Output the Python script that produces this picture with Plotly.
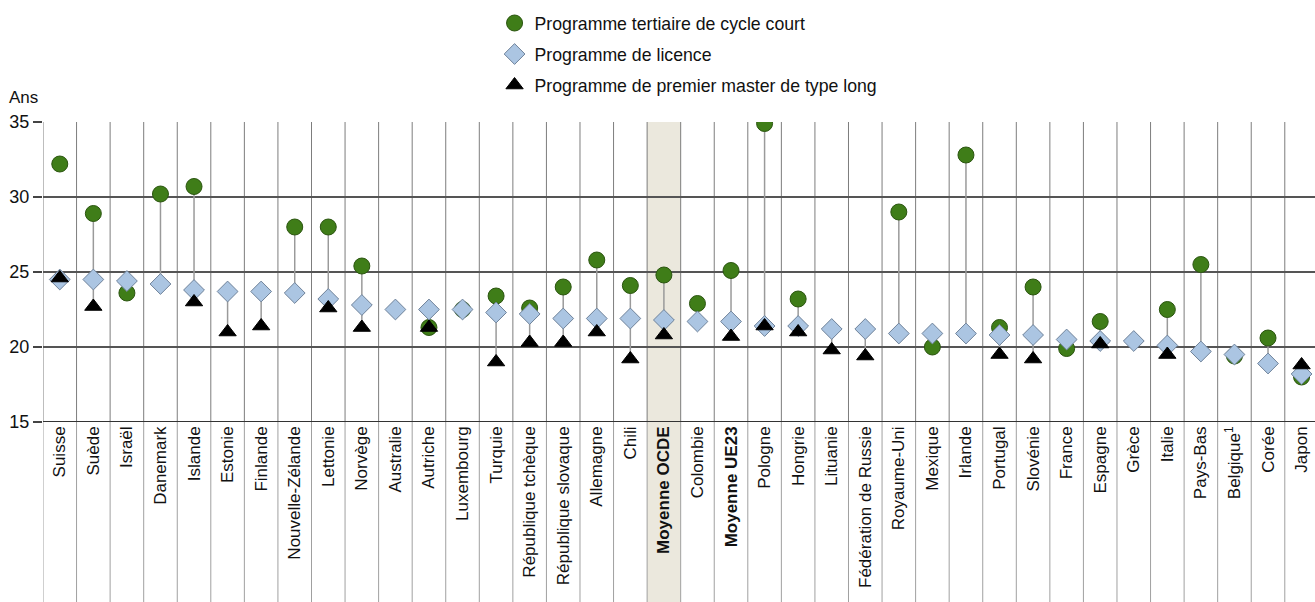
import plotly.graph_objects as go

# Pays et moyennes, triés par âge d'entrée en licence
pays = ["Suisse", "Suède", "Israël", "Danemark", "Islande", "Estonie", "Finlande",
        "Nouvelle-Zélande", "Lettonie", "Norvège", "Australie", "Autriche", "Luxembourg",
        "Turquie", "République tchèque", "République slovaque", "Allemagne", "Chili",
        "Moyenne OCDE", "Colombie", "Moyenne UE23", "Pologne", "Hongrie", "Lituanie",
        "Fédération de Russie", "Royaume-Uni", "Mexique", "Irlande", "Portugal", "Slovénie",
        "France", "Espagne", "Grèce", "Italie", "Pays-Bas", "Belgique<sup>1</sup>",
        "Corée", "Japon"]

cycle_court = [32.2, 28.9, 23.6, 30.2, 30.7, None, None, 28.0, 28.0, 25.4, None, 21.3, 22.5,
               23.4, 22.6, 24.0, 25.8, 24.1, 24.8, 22.9, 25.1, 34.9, 23.2, None, None, 29.0,
               20.0, 32.8, 21.3, 24.0, 19.9, 21.7, None, 22.5, 25.5, 19.4, 20.6, 18.0]

licence = [24.5, 24.5, 24.4, 24.2, 23.8, 23.7, 23.7, 23.6, 23.2, 22.8, 22.5, 22.5, 22.5,
           22.3, 22.2, 21.9, 21.9, 21.9, 21.8, 21.7, 21.7, 21.4, 21.4, 21.2, 21.2, 20.9,
           20.9, 20.9, 20.8, 20.8, 20.5, 20.4, 20.4, 20.1, 19.7, 19.5, 18.9, 18.2]

master_long = [24.6, 22.7, None, None, 23.0, 21.0, 21.4, None, 22.6, 21.3, None, 21.3, None,
               19.0, 20.3, 20.3, 21.0, 19.2, 20.8, None, 20.7, 21.4, 21.0, 19.8, 19.4, None,
               None, None, 19.5, 19.2, None, 20.2, None, 19.5, None, None, None, 18.8]

moyennes = ["Moyenne OCDE", "Moyenne UE23"]
colonne_surlignee = "Moyenne OCDE"
sans_trait = ["Suisse"]

y_ticks = [15, 20, 25, 30, 35]

FONT = "Liberation Sans, Arial, sans-serif"
n = len(pays)
xs = list(range(n))

ticktext = [f"<b>{p}</b>" if p in moyennes else p for p in pays]

# segments verticaux reliant le minimum et le maximum de chaque pays
seg_x, seg_y = [], []
for i, p in enumerate(pays):
    vals = [v for v in (cycle_court[i], licence[i], master_long[i]) if v is not None]
    if p in sans_trait or len(vals) < 2:
        continue
    seg_x += [i, i, None]
    seg_y += [min(vals), max(vals), None]

fig = go.Figure()

fig.add_trace(go.Scatter(x=seg_x, y=seg_y, mode="lines",
                         line=dict(color="#9a9a9a", width=1.5),
                         showlegend=False, hoverinfo="skip"))

fig.add_trace(go.Scatter(x=xs, y=cycle_court, mode="markers", legendgroup="a",
                         name="Programme tertiaire de cycle court",
                         marker=dict(symbol="circle", size=16, color="#3f7d18",
                                     line=dict(color="#2b5510", width=1))))
fig.add_trace(go.Scatter(x=xs, y=licence, mode="markers", legendgroup="b",
                         name="Programme de licence",
                         marker=dict(symbol="diamond", size=16, color="#abc5e2",
                                     line=dict(color="#70839a", width=1))))
fig.add_trace(go.Scatter(x=xs, y=master_long, mode="markers", legendgroup="c",
                         name="Programme de premier master de type long",
                         marker=dict(symbol="triangle-up", size=15, color="#000000",
                                     line=dict(color="#000000", width=1))))

shapes = []
# colonne mise en évidence
k = pays.index(colonne_surlignee)
shapes.append(dict(type="rect", xref="x", yref="paper", x0=k - 0.5, x1=k + 0.5,
                   y0=-0.6, y1=1, fillcolor="#ebe8dd", line=dict(width=0), layer="below"))
# séparateurs de colonnes
for b in range(n + 1):
    shapes.append(dict(type="line", xref="x", yref="y", x0=b - 0.5, x1=b - 0.5,
                       y0=y_ticks[0], y1=y_ticks[-1],
                       line=dict(color="#7d7d7d", width=1), layer="below"))
    shapes.append(dict(type="line", xref="x", yref="paper", x0=b - 0.5, x1=b - 0.5,
                       y0=-0.6, y1=0, line=dict(color="#a0a0a0", width=1), layer="below"))
# axe horizontal à 15
shapes.append(dict(type="line", xref="paper", yref="y", x0=0, x1=1, y0=y_ticks[0],
                   y1=y_ticks[0], line=dict(color="#333333", width=2)))

fig.update_layout(
    width=1315, height=602,
    margin=dict(l=43, r=0, t=122, b=180),
    paper_bgcolor="white", plot_bgcolor="white",
    font=dict(family=FONT, color="#111111"),
    shapes=shapes,
    showlegend=True,
    legend=dict(x=0.355, y=1.39, xanchor="left", yanchor="top",
                orientation="v", font=dict(size=17.7, family=FONT),
                bgcolor="rgba(0,0,0,0)", tracegroupgap=5, itemwidth=30),
    annotations=[dict(text="Ans", xref="paper", yref="paper", x=0, y=1.083,
                      xanchor="right", yanchor="middle", xshift=-3, showarrow=False,
                      font=dict(size=17, family=FONT))],
)

fig.update_xaxes(range=[-0.5, n - 0.6], tickmode="array", tickvals=xs, ticktext=ticktext,
                 tickangle=-90, tickfont=dict(size=17, family=FONT), showgrid=False,
                 zeroline=False, showline=False, ticks="", automargin=False)
fig.update_yaxes(range=[y_ticks[0], y_ticks[-1]], tickmode="array", tickvals=y_ticks,
                 showgrid=True, gridcolor="#555555", gridwidth=1.5, zeroline=False,
                 showline=False, ticks="outside", ticklen=9, tickcolor="#444444",
                 tickwidth=1.5, tickfont=dict(size=18, family=FONT), automargin=False)

fig.write_html("out.html")
